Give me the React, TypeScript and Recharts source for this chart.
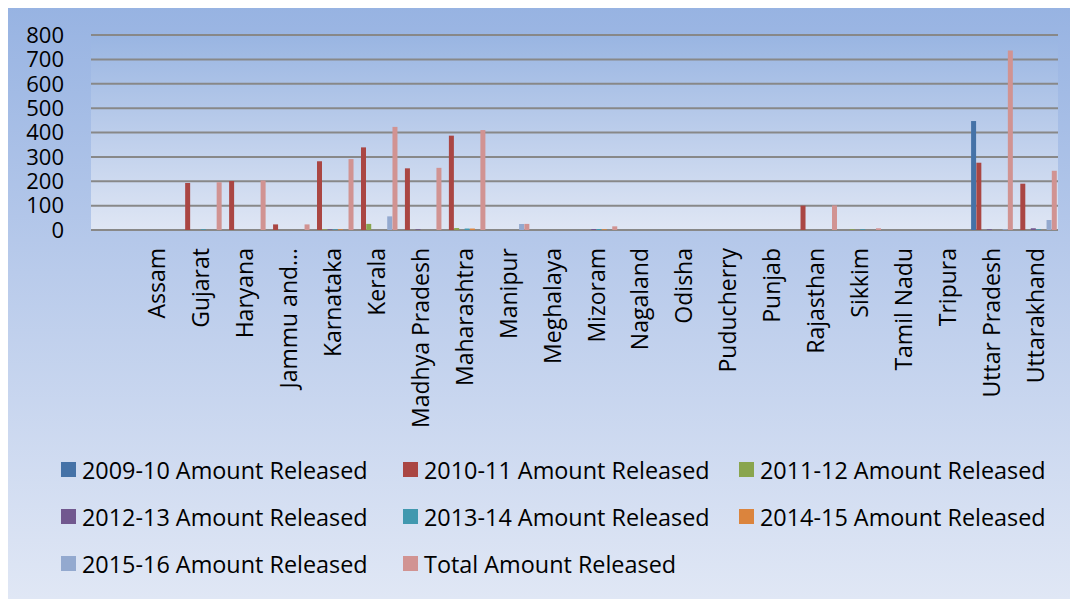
import { BarChart, Bar, XAxis, YAxis, CartesianGrid, Legend } from "recharts";

// States as listed on the category axis (first row of the sheet is blank)
const STATES = [
  "",
  "Assam",
  "Gujarat",
  "Haryana",
  "Jammu and Kashmir",
  "Karnataka",
  "Kerala",
  "Madhya Pradesh",
  "Maharashtra",
  "Manipur",
  "Meghalaya",
  "Mizoram",
  "Nagaland",
  "Odisha",
  "Puducherry",
  "Punjab",
  "Rajasthan",
  "Sikkim",
  "Tamil Nadu",
  "Tripura",
  "Uttar Pradesh",
  "Uttarakhand",
];

//                       -  Asm Guj  Har  J&K Kar  Ker  MP   Mah  Man Meg Miz Nag Odi Pud Pun Raj  Sik TN Tri UP   Utk
const RELEASED_2009_10 = [0, 0, 0,   0,   0,  0,   0,   0,   0,   0,  0,  0,  0,  0,  0,  0,  0,   0, 0, 0,  447, 0];
const RELEASED_2010_11 = [0, 0, 193, 201, 23, 282, 339, 253, 387, 0,  0,  0,  0,  0,  0,  0,  100, 0, 0, 0,  276, 190];
const RELEASED_2011_12 = [0, 0, 0,   0,   0,  3,   25,  0,   8,   0,  0,  0,  0,  0,  0,  0,  0,   3, 0, 0,  0,   0];
const RELEASED_2012_13 = [0, 0, 0,   0,   0,  3,   0,   3,   0,   0,  0,  4,  0,  0,  0,  0,  0,   0, 0, 0,  3,   7];
const RELEASED_2013_14 = [0, 0, 3,   0,   0,  3,   0,   0,   6,   0,  0,  4,  0,  0,  0,  0,  0,   3, 0, 0,  0,   3];
const RELEASED_2014_15 = [0, 0, 0,   0,   0,  3,   0,   0,   6,   0,  0,  3,  0,  0,  0,  0,  0,   0, 0, 0,  0,   0];
const RELEASED_2015_16 = [0, 0, 0,   0,   0,  0,   56,  0,   0,   25, 0,  0,  0,  0,  0,  0,  0,   0, 0, 0,  3,   41];
const RELEASED_TOTAL   = [0, 0, 196, 203, 23, 291, 423, 255, 410, 25, 0,  15, 0,  0,  0,  0,  101, 7, 0, 0,  736, 243];

const Y_TICKS = [0, 100, 200, 300, 400, 500, 600, 700, 800];

const SERIES = [
  { name: "2009-10 Amount Released", values: RELEASED_2009_10, color: "#4572A7" },
  { name: "2010-11 Amount Released", values: RELEASED_2010_11, color: "#AA4643" },
  { name: "2011-12 Amount Released", values: RELEASED_2011_12, color: "#89A54E" },
  { name: "2012-13 Amount Released", values: RELEASED_2012_13, color: "#71588F" },
  { name: "2013-14 Amount Released", values: RELEASED_2013_14, color: "#4198AF" },
  { name: "2014-15 Amount Released", values: RELEASED_2014_15, color: "#DB843D" },
  { name: "2015-16 Amount Released", values: RELEASED_2015_16, color: "#93A9CF" },
  { name: "Total Amount Released", values: RELEASED_TOTAL, color: "#D19392" },
];

const data = STATES.map((state, i) => {
  const row: Record<string, string | number> = { state };
  SERIES.forEach((s) => {
    row[s.name] = s.values[i];
  });
  return row;
});

const FONT = "'Open Sans', 'Noto Sans', sans-serif";

// long names get cut short like the spreadsheet does
function shorten(name: string) {
  if (name.length <= 15) return name;
  const words = name.split(" ");
  let out = "";
  for (const w of words) {
    const next = out ? out + " " + w : w;
    if (next.length > 12) break;
    out = next;
  }
  return out + "…";
}

function StateTick({ x, y, payload }: any) {
  const label = shorten(String(payload.value ?? ""));
  if (!label) return null;
  return (
    <text
      x={x}
      y={y}
      transform={`rotate(-90, ${x}, ${y})`}
      textAnchor="end"
      dy="0.35em"
      fontSize={23}
      fontFamily={FONT}
      fill="#000"
    >
      {label}
    </text>
  );
}

function LegendGrid({ payload }: any) {
  const items = (payload ?? []).map((p: any) => ({ name: p.value, color: p.color }));
  return (
    <div
      style={{
        display: "grid",
        gridTemplateColumns: "342px 336px 320px",
        paddingLeft: 53,
        fontFamily: FONT,
        fontSize: 23.4,
        color: "#000",
      }}
    >
      {items.map((it: any) => (
        <div key={it.name} style={{ height: 47, display: "flex", alignItems: "center" }}>
          <span
            style={{ width: 15, height: 15, background: it.color, marginRight: 6, flex: "none" }}
          />
          <span style={{ whiteSpace: "nowrap" }}>{it.name}</span>
        </div>
      ))}
    </div>
  );
}

export default function App() {
  return (
    <div
      style={{
        width: 1070,
        height: 594,
        marginTop: -3,
        background: "linear-gradient(to bottom, #97b3e2 0%, #b9cbeb 45%, #e0e7f5 100%)",
        fontFamily: FONT,
      }}
    >
      <BarChart
        width={1070}
        height={594}
        data={data}
        margin={{ top: 30, right: 20, bottom: 169, left: 0 }}
        barCategoryGap={1}
        barGap={0.25}
      >
        <defs>
          <linearGradient id="plotFill" x1="0" y1="0" x2="0" y2="1">
            <stop offset="0%" stopColor="#99b5e2" />
            <stop offset="100%" stopColor="#dfe6f4" />
          </linearGradient>
        </defs>
        <CartesianGrid
          vertical={false}
          stroke="#888888"
          strokeWidth={2}
          fill="url(#plotFill)"
          fillOpacity={1}
        />
        <XAxis
          dataKey="state"
          interval={0}
          height={200}
          axisLine={false}
          tickLine={false}
          tickSize={0}
          tickMargin={18}
          tick={<StateTick />}
        />
        <YAxis
          width={83}
          domain={[0, 800]}
          ticks={Y_TICKS}
          interval={0}
          axisLine={false}
          tickLine={false}
          tickSize={0}
          tickMargin={27}
          tick={{ fontSize: 22, fill: "#000", fontFamily: FONT }}
        />
        <Legend
          layout="horizontal"
          verticalAlign="middle"
          align="center"
          wrapperStyle={{ top: 441, left: 0, width: 1070 }}
          content={<LegendGrid />}
        />
        {SERIES.map((s) => (
          <Bar key={s.name} dataKey={s.name} fill={s.color} isAnimationActive={false} />
        ))}
      </BarChart>
    </div>
  );
}
